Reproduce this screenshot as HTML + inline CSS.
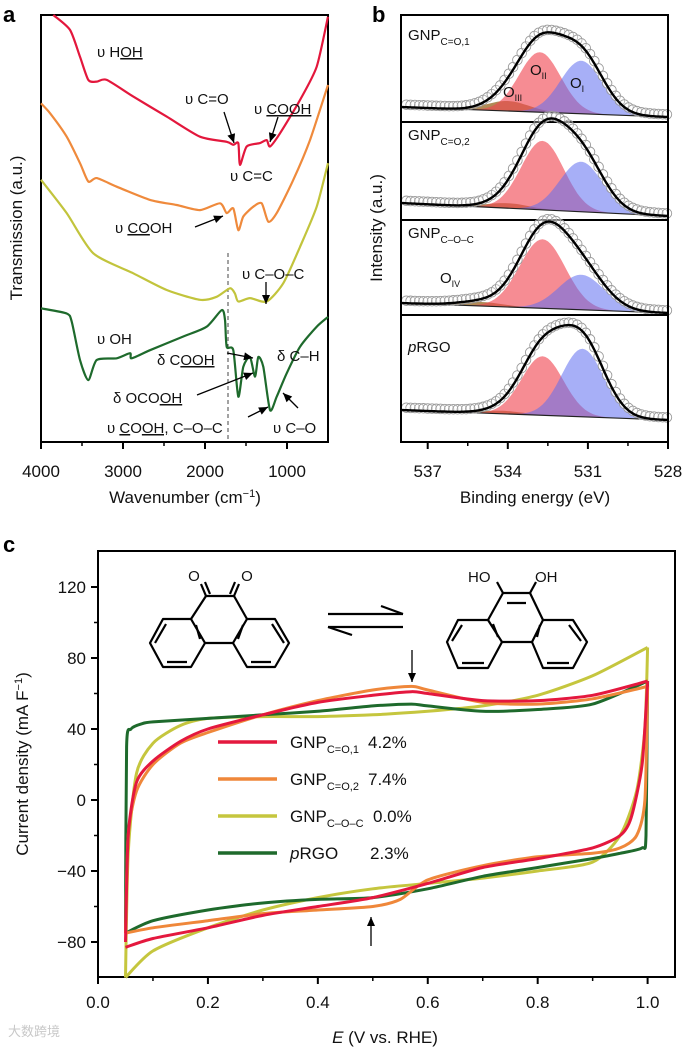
<!DOCTYPE html>
<html><head><meta charset="utf-8"><style>
html,body{margin:0;padding:0;background:#fff;}
svg{display:block;font-family:"Liberation Sans","Noto Sans CJK SC",sans-serif;}
</style></head><body>
<svg id="fig" width="685" height="1051" viewBox="0 0 685 1051" xmlns="http://www.w3.org/2000/svg">
<rect width="685" height="1051" fill="#fff"/>
<g id="pa"></g>
<g id="pb"></g>
<g id="pc"></g>
</svg>
<script>
// ---------- Panel a data (FTIR) ----------
const ftirWn_red=[3850,3646,3524,3423,3321,3199,2874,2467,2061,1735,1655,1594,1573,1491,1329,1248,1207,1085,841,638,500];
const ftirT_red=[100,96.5,90.2,84.8,84.4,84.8,80.9,76.2,71.5,70.3,69.6,70,64.9,69.2,70,70.7,69.2,72.3,80.1,87.9,99.6];
const ftirWn_orange=[4000,3890,3687,3524,3423,3321,3077,2671,2345,2061,1817,1735,1655,1594,1533,1411,1309,1228,1126,923,720,500];
const ftirT_orange=[79.3,77,71.5,65.3,61,61.8,59.8,56.7,55.5,54.3,55.9,53.6,54.7,49.6,52.8,55.1,55.9,51.6,53.6,61.4,70.7,83.6];
const ftirWn_yellow=[4000,3687,3362,2874,2467,2061,1858,1696,1635,1594,1451,1248,1045,841,638,500];
const ftirT_yellow=[61.4,53.6,44.2,39.5,35.6,33.3,34,36,34.8,32.9,33.7,32.9,37.2,45.7,55.1,65.3];
const ftirWn_green=[4000,3687,3626,3524,3423,3321,3077,2915,2894,2671,2265,1980,1796,1756,1735,1655,1594,1533,1451,1390,1350,1289,1207,1126,1004,841,638,500];
const ftirT_green=[31.3,30.1,28.2,19.2,14.5,19.2,19.6,20.8,19.6,21.5,24.7,27,30.9,28.6,22.3,21.5,10.6,17.6,19.9,15.3,19.9,17.6,7.5,10.6,16.1,22.3,27,29.3];
const ftirTicks=[4000,3000,2000,1000];
const ftirMinor=[3500,2500,1500];

// ---------- Panel b data (XPS O1s) ----------
const xpsBaseLeft=[15,17,12,32];
const xpsBaseRight=[5,4,2,22];
const xpsCenterOI=[531.25,531.25,531.25,531.2];
const xpsHeightOI=[53,50,35,68];
const xpsCenterOII=[532.8,532.7,532.7,532.7];
const xpsHeightOII=[60,69,69,59];
const xpsCenterOIII=[534.0,534.0,535.0,534.2];
const xpsHeightOIII=[10,5,4,3];
const xpsSigma=[0.78,0.8,0.85,0.78];
const xpsTicks=[537,534,531,528];
const xpsMinor=[535.5,532.5,529.5];

// ---------- Panel c data (CV) ----------
const cvV_up_red=[0.05,0.055,0.07,0.1,0.15,0.2,0.3,0.4,0.5,0.57,0.6,0.7,0.8,0.9,1.0];
const cvJ_up_red=[-80,-20,10,22,33,40,48,55,59,61,60,56,56,59,67];
const cvV_dn_red=[1.0,0.99,0.97,0.95,0.9,0.8,0.7,0.6,0.5,0.4,0.3,0.2,0.1,0.05];
const cvJ_dn_red=[67,20,-10,-20,-27,-33,-38,-47,-55,-60,-65,-72,-78,-83];
const cvV_up_orange=[0.05,0.055,0.07,0.1,0.15,0.2,0.3,0.4,0.5,0.57,0.6,0.7,0.8,0.9,1.0];
const cvJ_up_orange=[-75,-20,5,20,32,38,48,56,62,64,62,55,54,57,64];
const cvV_dn_orange=[1.0,0.995,0.98,0.95,0.9,0.8,0.7,0.6,0.55,0.5,0.4,0.3,0.2,0.1,0.05];
const cvJ_dn_orange=[64,0,-20,-27,-30,-32,-37,-45,-56,-60,-62,-64,-68,-72,-75];
const cvV_up_yellow=[0.05,0.055,0.07,0.1,0.15,0.2,0.3,0.4,0.5,0.6,0.7,0.8,0.9,1.0];
const cvJ_up_yellow=[-100,-30,15,32,42,46,47,47,48,50,53,59,70,86];
const cvV_dn_yellow=[1.0,0.995,0.98,0.95,0.9,0.8,0.7,0.6,0.5,0.4,0.3,0.2,0.1,0.05];
const cvJ_dn_yellow=[86,40,5,-20,-35,-40,-44,-47,-50,-55,-62,-72,-85,-100];
const cvV_up_green=[0.05,0.052,0.06,0.08,0.1,0.2,0.3,0.4,0.5,0.57,0.6,0.7,0.8,0.9,1.0];
const cvJ_up_green=[-75,30,40,43,44,46,48,50,53,54,53,50,51,54,67];
const cvV_dn_green=[1.0,0.997,0.99,0.95,0.9,0.8,0.7,0.6,0.5,0.4,0.3,0.2,0.1,0.05];
const cvJ_dn_green=[67,-20,-27,-30,-33,-38,-43,-50,-55,-56,-58,-62,-68,-75];
const cvXTicks=[0,0.2,0.4,0.6,0.8,1.0];
const cvXTickLabels=["0.0","0.2","0.4","0.6","0.8","1.0"];
const cvYTicks=[120,80,40,0,-40,-80];
const cvYTickLabels=["120","80","40","0","\u221240","\u221280"];
const legendPct=["4.2%","7.4%","0.0%","2.3%"];

const NS="http://www.w3.org/2000/svg";
function mk(parent,tag,attrs){const e=document.createElementNS(NS,tag);for(const k in attrs)e.setAttribute(k,attrs[k]);parent.appendChild(e);return e;}
function smooth(pts){
  if(pts.length<2)return "";
  let d="M"+pts[0][0].toFixed(1)+","+pts[0][1].toFixed(1);
  for(let i=0;i<pts.length-1;i++){
    const p0=pts[Math.max(0,i-1)],p1=pts[i],p2=pts[i+1],p3=pts[Math.min(pts.length-1,i+2)];
    const t=0.12;
    const c1=[p1[0]+(p2[0]-p0[0])*t,p1[1]+(p2[1]-p0[1])*t];
    const c2=[p2[0]-(p3[0]-p1[0])*t,p2[1]-(p3[1]-p1[1])*t];
    d+="C"+c1[0].toFixed(1)+","+c1[1].toFixed(1)+" "+c2[0].toFixed(1)+","+c2[1].toFixed(1)+" "+p2[0].toFixed(1)+","+p2[1].toFixed(1);
  }
  return d;
}
function txt(parent,x,y,html,attrs){const t=mk(parent,"text",Object.assign({x:x,y:y,"font-size":16,fill:"#111"},attrs||{}));t.innerHTML=html;return t;}

// ================= Panel A =================
const pa=document.getElementById("pa");
const xA=w=>41+(4000-w)*(287/3500);
const yA=v=>442-v*4.27;
txt(pa,3,22,"a",{"font-size":22,"font-weight":"bold",fill:"#000"});
const fA=mk(pa,"rect",{x:41,y:15,width:287,height:427,fill:"none",stroke:"#000","stroke-width":2});


mk(pa,"line",{x1:228,y1:253,x2:228,y2:442,stroke:"#444","stroke-width":1,"stroke-dasharray":"4,3"});
[["red","#e3173c",ftirWn_red,ftirT_red],["orange","#ef8a3c",ftirWn_orange,ftirT_orange],["yellow","#c2c43c",ftirWn_yellow,ftirT_yellow],["green","#1e6a2c",ftirWn_green,ftirT_green]].forEach(s=>{
  const pts=s[2].map((w,i)=>[xA(w),yA(s[3][i])]);
  const p=mk(pa,"path",{d:smooth(pts),fill:"none",stroke:s[1],"stroke-width":2.2,"stroke-linejoin":"round"});
  
  
});
ftirTicks.forEach(w=>{
  mk(pa,"line",{x1:xA(w),y1:442,x2:xA(w),y2:449,stroke:"#000","stroke-width":2});
  const t=txt(pa,xA(w),477,String(w),{"font-size":17,"text-anchor":"middle"});
  
  
});
ftirMinor.forEach(w=>mk(pa,"line",{x1:xA(w),y1:442,x2:xA(w),y2:446,stroke:"#000","stroke-width":1.5}));
const xtA=txt(pa,185,503,"Wavenumber (cm<tspan dy='-6' font-size='11'>\u22121</tspan><tspan dy='6'>)</tspan>",{"font-size":17,"text-anchor":"middle"});

const ytA=txt(pa,0,0,"Transmission (a.u.)",{"font-size":17,"text-anchor":"middle",transform:"translate(22,228) rotate(-90)"});

const ann=[
 [97,57,"\u03c5 H<tspan text-decoration='underline'>OH</tspan>"],
 [185,104,"\u03c5 C=O"],
 [254,114,"\u03c5 <tspan text-decoration='underline'>COOH</tspan>"],
 [230,181,"\u03c5 C=C"],
 [115,233,"\u03c5 <tspan text-decoration='underline'>CO</tspan>OH"],
 [242,279,"\u03c5 C\u2013O\u2013C"],
 [97,344,"\u03c5 OH"],
 [157,365,"\u03b4 C<tspan text-decoration='underline'>OOH</tspan>"],
 [113,403,"\u03b4 OCO<tspan text-decoration='underline'>OH</tspan>"],
 [107,433,"\u03c5 <tspan text-decoration='underline'>C</tspan>O<tspan text-decoration='underline'>OH,</tspan> C\u2013O\u2013C"],
 [277,361,"\u03b4 C\u2013H"],
 [273,433,"\u03c5 C\u2013O"]];
ann.forEach(a=>{const t=txt(pa,a[0],a[1],a[2],{"font-size":15});});
function arrow(parent,x1,y1,x2,y2){
  mk(parent,"line",{x1:x1,y1:y1,x2:x2,y2:y2,stroke:"#000","stroke-width":1.3});
  const ang=Math.atan2(y2-y1,x2-x1),L=9,W=4;
  const bx=x2-L*Math.cos(ang),by=y2-L*Math.sin(ang);
  mk(parent,"polygon",{points:`${x2},${y2} ${bx-W*Math.sin(ang)},${by+W*Math.cos(ang)} ${bx+W*Math.sin(ang)},${by-W*Math.cos(ang)}`,fill:"#000"});
}
[[224,112,234,143],[278,117,270,142],[195,227,223,216],[266,282,266,304],[227,353,253,358],[197,395,253,373],[248,417,268,407],[298,408,283,393]].forEach(a=>arrow(pa,...a));

// ================= Panel B =================
const pb=document.getElementById("pb");
const xB=e=>401+(538-e)*(267/10);
const bottoms=[122,220,315,442];
txt(pb,372,22,"b",{"font-size":22,"font-weight":"bold",fill:"#000"});
function gauss(e,c,h,s){return h*Math.exp(-0.5*((e-c)/s)**2);}
for(let k=0;k<4;k++){
  const bot=bottoms[k];
  const base=e=>bot-(xpsBaseLeft[k]+(xpsBaseRight[k]-xpsBaseLeft[k])*(538-e)/10);
  const es=[];for(let e=538;e>=527.999;e-=0.1)es.push(e);
  const comps=[[xpsCenterOIII[k],xpsHeightOIII[k],"rgba(150,100,30,0.75)","o-iii"],[xpsCenterOII[k],xpsHeightOII[k],"rgba(240,70,80,0.62)","o-ii"],[xpsCenterOI[k],xpsHeightOI[k],"rgba(95,110,240,0.55)","o-i"]];
  comps.forEach(c=>{
    let d="M"+xB(538)+","+base(538);
    es.forEach(e=>{d+="L"+xB(e).toFixed(1)+","+(base(e)-gauss(e,c[0],c[1],xpsSigma[k])).toFixed(1);});
    d+="L"+xB(528)+","+base(528)+"Z";
    const p=mk(pb,"path",{d:d,fill:c[2],stroke:"none"});
    
    
  });
  mk(pb,"line",{x1:xB(538),y1:base(538),x2:xB(528),y2:base(528),stroke:"#222","stroke-width":1.2});
  const env=e=>base(e)-1.08*(gauss(e,xpsCenterOI[k],xpsHeightOI[k],xpsSigma[k]*1.05)+gauss(e,xpsCenterOII[k],xpsHeightOII[k],xpsSigma[k]*1.05)+gauss(e,xpsCenterOIII[k],xpsHeightOIII[k],xpsSigma[k]));
  for(let e=537.8;e>=528;e-=0.16){
    const c=mk(pb,"circle",{cx:xB(e).toFixed(1),cy:(env(e)-2.5).toFixed(1),r:4.8,fill:"rgba(255,255,255,0.3)",stroke:"#999","stroke-width":0.9});
    
    
  }
  const envPts=es.map(e=>[xB(e),env(e)]);
  const ep=mk(pb,"path",{d:smooth(envPts),fill:"none",stroke:"#000","stroke-width":2.4});
  
  
  if(k<3)mk(pb,"line",{x1:401,y1:bot,x2:668,y2:bot,stroke:"#000","stroke-width":2});
}
const fB=mk(pb,"rect",{x:401,y:15,width:267,height:427,fill:"none",stroke:"#000","stroke-width":2});

xpsTicks.forEach(e=>{mk(pb,"line",{x1:xB(e),y1:442,x2:xB(e),y2:449,stroke:"#000","stroke-width":2});
  const t=txt(pb,xB(e),477,String(e),{"font-size":17,"text-anchor":"middle"});});
xpsMinor.forEach(e=>mk(pb,"line",{x1:xB(e),y1:442,x2:xB(e),y2:446,stroke:"#000","stroke-width":1.5}));
txt(pb,535,503,"Binding energy (eV)",{"font-size":17,"text-anchor":"middle"});
txt(pb,0,0,"Intensity (a.u.)",{"font-size":17,"text-anchor":"middle",transform:"translate(382,228) rotate(-90)"});
const sLab=[[40,"GNP<tspan font-size='10' dy='5'>C=O,1</tspan>"],[140,"GNP<tspan font-size='10' dy='5'>C=O,2</tspan>"],[238,"GNP<tspan font-size='10' dy='5'>C\u2013O\u2013C</tspan>"],[352,"<tspan font-style='italic'>p</tspan>RGO"]];
sLab.forEach(s=>{const t=txt(pb,408,s[0],s[1],{"font-size":15});});
[[530,75,"O<tspan font-size='9' dy='4'>II</tspan>"],[570,88,"O<tspan font-size='9' dy='4'>I</tspan>"],[503,97,"O<tspan font-size='9' dy='4'>III</tspan>"],[440,283,"O<tspan font-size='9' dy='4'>IV</tspan>"]].forEach(a=>{
  const t=txt(pb,a[0],a[1],a[2],{"font-size":15});});

// ================= Panel C =================
const pc=document.getElementById("pc");
const xC=v=>98+v*549.6;
const yC=j=>800-j*1.775;
txt(pc,3,552,"c",{"font-size":22,"font-weight":"bold",fill:"#000"});
const fC=mk(pc,"rect",{x:98,y:551,width:577,height:426,fill:"none",stroke:"#000","stroke-width":2});

cvXTicks.forEach((v,i)=>{mk(pc,"line",{x1:xC(v),y1:977,x2:xC(v),y2:984,stroke:"#000","stroke-width":2});
  const t=txt(pc,xC(v),1008,cvXTickLabels[i],{"font-size":17,"text-anchor":"middle"});});
[0.1,0.3,0.5,0.7,0.9].forEach(v=>mk(pc,"line",{x1:xC(v),y1:977,x2:xC(v),y2:981,stroke:"#000","stroke-width":1.5}));
cvYTicks.forEach((j,i)=>{mk(pc,"line",{x1:91,y1:yC(j),x2:98,y2:yC(j),stroke:"#000","stroke-width":2});
  const t=txt(pc,86,yC(j)+6,cvYTickLabels[i],{"font-size":17,"text-anchor":"end"});});
[100,60,20,-20,-60].forEach(j=>mk(pc,"line",{x1:94,y1:yC(j),x2:98,y2:yC(j),stroke:"#000","stroke-width":1.5}));
txt(pc,385,1043,"<tspan font-style='italic'>E</tspan> (V vs. RHE)",{"font-size":17,"text-anchor":"middle"});
txt(pc,0,0,"Current density (mA F<tspan dy='-6' font-size='11'>\u22121</tspan><tspan dy='6'>)</tspan>",{"font-size":17,"text-anchor":"middle",transform:"translate(28,764) rotate(-90)"});
const cvSeries=[["yellow","#c5c63e",cvV_up_yellow,cvJ_up_yellow,cvV_dn_yellow,cvJ_dn_yellow],
 ["green","#1e6a2c",cvV_up_green,cvJ_up_green,cvV_dn_green,cvJ_dn_green],
 ["orange","#ef873a",cvV_up_orange,cvJ_up_orange,cvV_dn_orange,cvJ_dn_orange],
 ["red","#e4183e",cvV_up_red,cvJ_up_red,cvV_dn_red,cvJ_dn_red]];
cvSeries.forEach(s=>{
  const up=s[2].map((v,i)=>[xC(v),yC(s[3][i])]);
  const dn=s[4].map((v,i)=>[xC(v),yC(s[5][i])]);
  const p=mk(pc,"path",{d:smooth(up)+" "+smooth(dn),fill:"none",stroke:s[1],"stroke-width":3,"stroke-linejoin":"round"});
  
  
});
// legend
const legC=[["#e4183e","GNP<tspan font-size='11' dy='5'>C=O,1</tspan>"],["#ef873a","GNP<tspan font-size='11' dy='5'>C=O,2</tspan>"],["#c5c63e","GNP<tspan font-size='11' dy='5'>C\u2013O\u2013C</tspan>"],["#1e6a2c","<tspan font-style='italic'>p</tspan>RGO"]];
const legY=[742,779,816,853];
const legPctX=[368,368,373,370];
legC.forEach((l,i)=>{
  const g=mk(pc,"g",{});
  
  
  mk(g,"line",{x1:218,y1:legY[i],x2:277,y2:legY[i],stroke:l[0],"stroke-width":3.5});
  txt(g,290,legY[i]+6,l[1],{"font-size":17});
  txt(g,legPctX[i],legY[i]+6,legendPct[i],{"font-size":17});
});
arrow(pc,412,650,412,682);
arrow(pc,371,946,371,917);
// chemical structures
const st=mk(pc,"g",{stroke:"#000","stroke-width":2.2,fill:"none","stroke-linejoin":"round"});

function poly(pts,close){mk(st,close?"polygon":"polyline",{points:pts.map(p=>p.join(",")).join(" ")});}
function ln(a,b,c,d){mk(st,"line",{x1:a,y1:b,x2:c,y2:d});}
// left (quinone)
poly([[150,643],[163,619],[191,619],[205,643],[191,667],[163,667]],true);
poly([[233,643],[247,619],[275,619],[289,643],[275,667],[247,667]],true);
ln(191,619,206,596);ln(206,596,234,596);ln(234,596,247,619);ln(205,643,233,643);
ln(155,643,166,624);ln(167,662,187,662);ln(272,624,284,643);ln(251,662,271,662);ln(196,625,200,639);ln(238,639,243,625);
ln(206,596,201,584);ln(210,594,205,582);ln(234,596,239,584);ln(230,594,235,582);
// right (diol)
poly([[447,642],[458,620],[488,620],[502,642],[488,668],[458,668]],true);
poly([[532,642],[543,620],[573,620],[587,642],[573,668],[543,668]],true);
ln(488,620,503,593);ln(503,593,530,593);ln(530,593,543,620);ln(502,642,532,642);
ln(507,603,526,603);ln(452,641,462,625);ln(462,663,484,663);ln(569,625,581,641);ln(547,663,569,663);ln(493,624,498,637);ln(537,637,540,625);
ln(503,593,497,582);ln(530,593,536,582);
// equilibrium arrows
ln(328,614,403,614);ln(403,614,381,606);ln(328,627,403,627);ln(328,627,352,635);
const chemT=[[194,581,"O"],[247,581,"O"],[468,582,"HO"],[535,582,"OH"]];
chemT.forEach(c=>{const t=txt(pc,c[0],c[1],c[2],{"font-size":15,"text-anchor":c[2].length>1?"start":"middle"});});
const wm=txt(pc,8,1036,"\u5927\u6570\u8de8\u5883",{"font-size":13,fill:"#c8c8c8"});


</script>
</body></html>
